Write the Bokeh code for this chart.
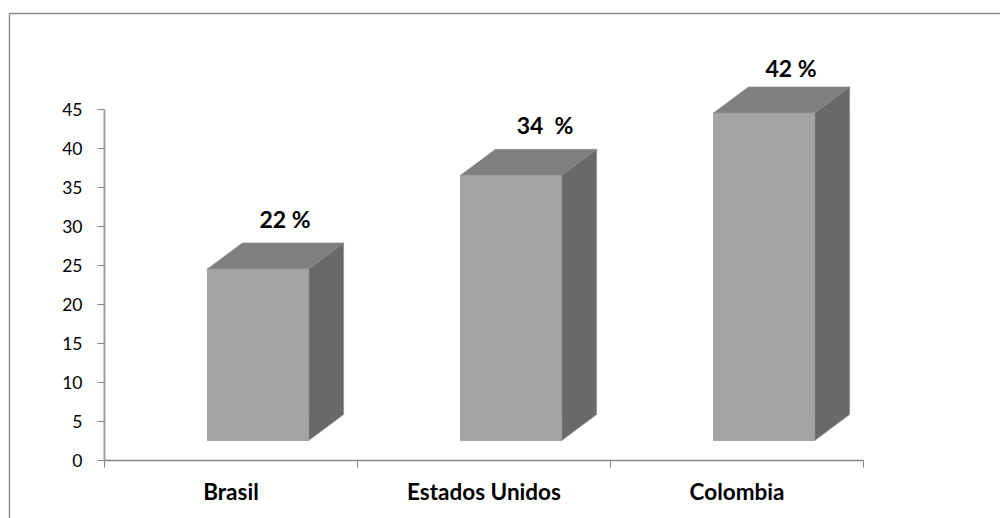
from bokeh.plotting import figure
from bokeh.models import FixedTicker, ColumnDataSource
from bokeh.core.properties import value
from bokeh.embed import file_html
from bokeh.resources import INLINE

categories = ["Brasil", "Estados Unidos", "Colombia"]
values = [22, 34, 42]
value_labels = ["22 %", "34\u00a0\u00a0%", "42 %"]
y_ticks = [0, 5, 10, 15, 20, 25, 30, 35, 40, 45]
label_dx = [27, 34, 27]
label_dy = [-50, -50, -45]

FONT = "Lato"
FRONT, TOP, SIDE = "#a3a3a3", "#7f7f7f", "#696969"
GREY = "#868686"

# 3D geometry, in data units of the axes
bar_left, bar_right = 0.407, 0.807
depth_x, depth_y = 0.138, 3.33
floor = 2.56

# The plot area fills the whole page; the axes sit inside it
px_x = 253.0
px_y = 7.8
x0, y0 = 104, 460
x_range = ((0 - x0) / px_x, (1000 - x0) / px_x)
y_range = ((y0 - 518) / px_y, y0 / px_y)

p = figure(width=1000, height=518, x_range=x_range, y_range=y_range,
           frame_width=1000, frame_height=518,
           min_border=0,
           output_backend="svg", toolbar_location=None)
p.grid.visible = False
p.outline_line_color = None

fx, fy, tx, ty, sx, sy = [], [], [], [], [], []
for i, v in enumerate(values):
    l, r = i + bar_left, i + bar_right
    b, t = floor, floor + v
    fx.append([l, r, r, l]); fy.append([b, b, t, t])
    tx.append([l, r, r + depth_x, l + depth_x]); ty.append([t, t, t + depth_y, t + depth_y])
    sx.append([r, r + depth_x, r + depth_x, r]); sy.append([b, b + depth_y, t + depth_y, t])

p.patches(sx, sy, fill_color=SIDE, line_color="#8a8a8a", line_width=0.6)
p.patches(tx, ty, fill_color=TOP, line_color="#8a8a8a", line_width=0.6)
p.patches(fx, fy, fill_color=FRONT, line_color="#989898", line_width=0.8)

src = ColumnDataSource(dict(
    x=[i + (bar_left + bar_right) / 2 for i in range(len(values))],
    y=[floor + v for v in values],
    text=value_labels, dx=label_dx, dy=label_dy))
p.text("x", "y", text="text", source=src, x_offset="dx", y_offset="dy",
       text_align="center", text_baseline="middle", text_color="#000000",
       text_font=value(FONT), text_font_size="23px", text_font_style="bold")

# outer frame: left and top edges only
fl, ft = (9 - x0) / px_x, (y0 - 13) / px_y
p.line([fl, fl, x_range[1]], [y_range[0], ft, ft], line_color="#8c8c8c", line_width=1.5)

xa = p.xaxis[0]
xa.fixed_location = 0
xa.bounds = (0, 3)
xa.ticker = FixedTicker(ticks=[0.5, 1.5, 2.5], minor_ticks=[0, 1, 2, 3])
xa.major_label_overrides = {i + 0.5: c for i, c in enumerate(categories)}
xa.major_tick_out = 0
xa.major_tick_in = 0
xa.minor_tick_out = 7
xa.minor_tick_in = 0
xa.axis_line_color = GREY
xa.axis_line_width = 1.5
xa.minor_tick_line_color = GREY
xa.major_label_standoff = 10
xa.major_label_text_font = FONT
xa.major_label_text_font_size = "22.5px"
xa.major_label_text_font_style = "bold"
xa.major_label_text_color = "#000000"

ya = p.yaxis[0]
ya.fixed_location = 0
ya.ticker = FixedTicker(ticks=y_ticks, minor_ticks=[])
ya.bounds = (0, 45)
ya.major_tick_out = 7
ya.major_tick_in = 0
ya.axis_line_color = "#a0a0a0"
ya.axis_line_width = 2
ya.major_tick_line_color = GREY
ya.major_label_standoff = 15
ya.major_label_text_font = FONT
ya.major_label_text_font_size = "17.5px"
ya.major_label_text_color = "#000000"

open("out.html", "w").write(file_html(p, INLINE))
